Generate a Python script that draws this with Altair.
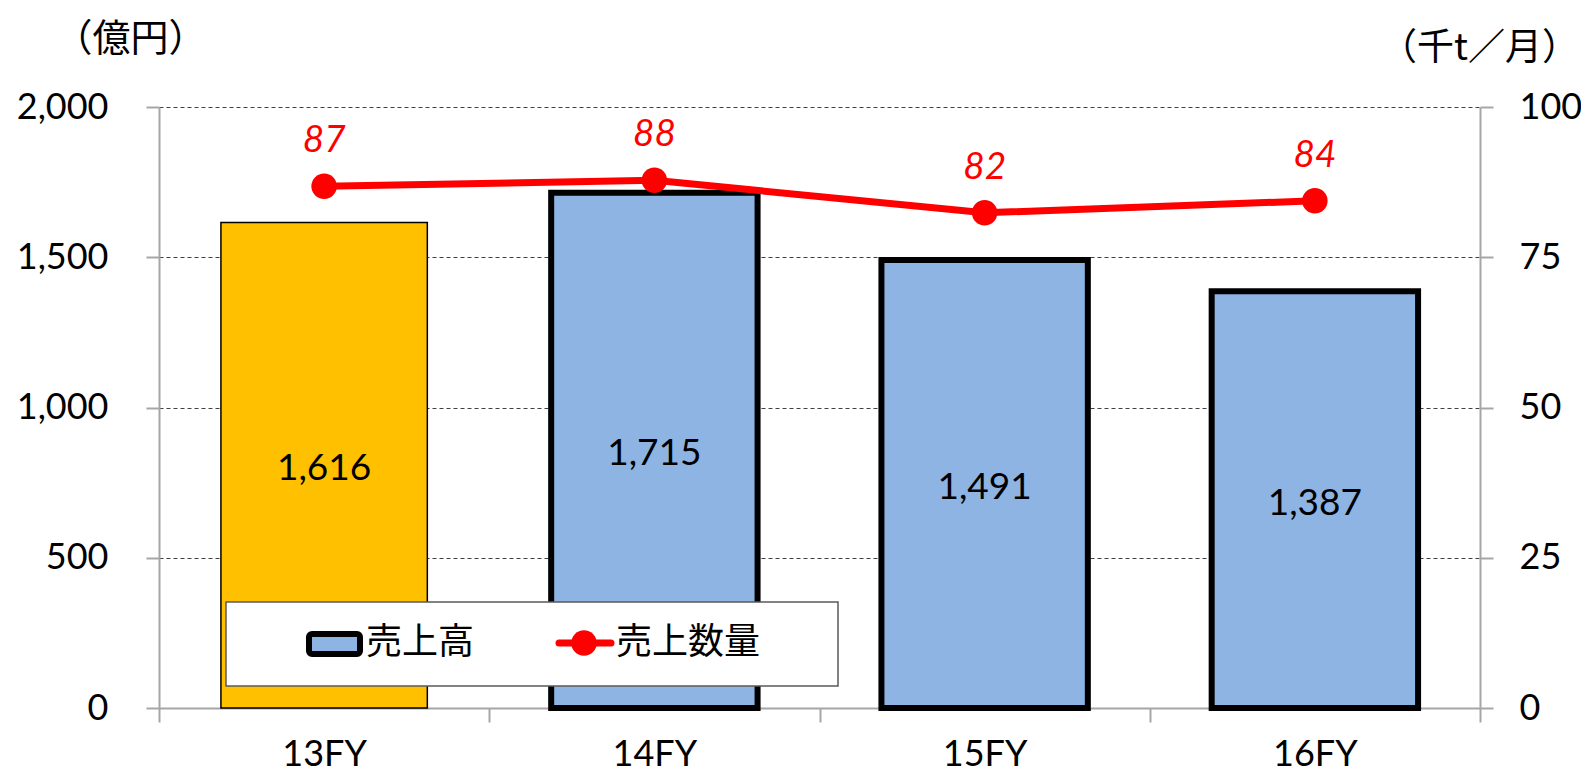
import altair as alt
import pandas as pd

# ---- data ----
categories = ["13FY", "14FY", "15FY", "16FY"]
sales = [1616, 1715, 1491, 1387]            # 売上高 (億円)
volumes = [86.8, 87.8, 82.4, 84.4]          # 売上数量 (千t/月)
volume_labels = ["87", "88", "82", "84"]
left_ticks = [0, 500, 1000, 1500, 2000]
right_ticks = [0, 25, 50, 75, 100]
legend_labels = ["売上高", "売上数量"]
left_title = "（億円）"
right_title = "（千t／月）"

df = pd.DataFrame({"cat": categories, "sales": sales, "vol": volumes, "vol_label": volume_labels})
legend_df = pd.DataFrame({"bar_label": [legend_labels[0]], "line_label": [legend_labels[1]]})

W, H = 1321, 601
NUM_FONT = "Lato"
JP_FONT = "Noto Sans CJK JP"
AXIS_GRAY = "#a6a6a6"
RED = "#FF0000"

x_enc = alt.X(
    "cat:N", sort=categories,
    scale=alt.Scale(paddingInner=0, paddingOuter=0),
    axis=alt.Axis(title=None, labelAngle=0, tickBand="extent", domainColor=AXIS_GRAY, domainWidth=2,
                  tickColor=AXIS_GRAY, tickWidth=2, tickSize=14, labelFont=NUM_FONT, labelFontSize=36,
                  labelColor="black", labelPadding=43, labelBaseline="alphabetic"),
)

left_scale = alt.Scale(domain=[0, 2000], nice=False, zero=True)
left_axis = alt.Axis(
    values=left_ticks, labelExpr="format(datum.value, ',')", grid=True, gridColor="#404040",
    gridDash=[4, 3], gridWidth=1,
    domainColor=AXIS_GRAY, domainWidth=2, tickColor=AXIS_GRAY, tickWidth=2, tickSize=13,
    labelFont=NUM_FONT, labelFontSize=36, labelColor="black", labelPadding=38,
    title=left_title, titleAngle=0, titleX=-29, titleY=-68, titleAlign="center", titleBaseline="middle",
    titleFont=JP_FONT, titleFontSize=38, titleFontWeight="normal", titleColor="black",
)

right_scale = alt.Scale(domain=[0, 100], nice=False, zero=True)
right_axis = alt.Axis(
    values=right_ticks, orient="right", grid=False,
    domainColor=AXIS_GRAY, domainWidth=2, tickColor=AXIS_GRAY, tickWidth=2, tickSize=13,
    labelFont=NUM_FONT, labelFontSize=36, labelColor="black", labelPadding=26,
    title=right_title, titleAngle=0, titleX=-1, titleY=-59, titleAlign="center", titleBaseline="middle",
    titleFont=JP_FONT, titleFontSize=37, titleFontWeight="normal", titleColor="black",
)

base = alt.Chart(df)

bars = base.mark_bar(stroke="black", width=alt.RelativeBandSize(0.625)).encode(
    x=x_enc,
    y=alt.Y("sales:Q", scale=left_scale, axis=left_axis),
    fill=alt.when(alt.datum.cat == "13FY").then(alt.value("#FFC000")).otherwise(alt.value("#8EB4E3")),
    strokeWidth=alt.when(alt.datum.cat == "13FY").then(alt.value(1.5)).otherwise(alt.value(6)),
)

bar_text = base.transform_calculate(mid="datum.sales / 2").mark_text(
    font=NUM_FONT, fontSize=37, color="black", baseline="middle", dy=4
).encode(
    x=x_enc,
    y=alt.Y("mid:Q", scale=left_scale, axis=left_axis),
    text=alt.Text("sales:Q", format=","),
)

leg = alt.Chart(legend_df)
legend_box = leg.mark_rect(fill="white", stroke="#595959", strokeWidth=1.5).encode(
    x=alt.value(67), x2=alt.value(679), y=alt.value(495), y2=alt.value(579))
legend_sym = leg.mark_rect(fill="#8EB4E3", stroke="black", strokeWidth=6, cornerRadius=3).encode(
    x=alt.value(150), x2=alt.value(201), y=alt.value(527), y2=alt.value(547))
legend_t1 = leg.mark_text(font=JP_FONT, fontSize=36, align="left", baseline="middle", color="black").encode(
    x=alt.value(207), y=alt.value(536), text="bar_label:N")
legend_rule = leg.mark_rule(color=RED, strokeWidth=7, strokeCap="round").encode(
    x=alt.value(400), x2=alt.value(452), y=alt.value(536))
legend_pt = leg.mark_circle(color=RED, size=650, opacity=1).encode(
    x=alt.value(425), y=alt.value(536))
legend_t2 = leg.mark_text(font=JP_FONT, fontSize=36, align="left", baseline="middle", color="black").encode(
    x=alt.value(457), y=alt.value(536), text="line_label:N")

left_group = alt.layer(bars, bar_text, legend_box, legend_sym, legend_t1, legend_rule, legend_pt, legend_t2)

line = base.mark_line(color=RED, strokeWidth=7).encode(
    x=x_enc, y=alt.Y("vol:Q", scale=right_scale, axis=right_axis))
points = base.mark_circle(color=RED, size=650, opacity=1).encode(
    x=x_enc, y=alt.Y("vol:Q", scale=right_scale, axis=right_axis))
line_text = base.mark_text(font=NUM_FONT, fontStyle="italic", fontSize=37, color=RED, dy=-45,
                           baseline="middle").encode(
    x=x_enc, y=alt.Y("vol:Q", scale=right_scale, axis=right_axis), text="vol_label:N")

right_group = alt.layer(line, points, line_text)

chart = alt.layer(left_group, right_group).resolve_scale(y="independent").properties(
    width=W, height=H,
    padding={"left": 151, "top": 99, "right": 101, "bottom": 64},
    autosize=alt.AutoSizeParams(type="none"),
    background="white",
).configure_view(stroke=None)

chart.save("out.html", embed_options={"renderer": "svg", "actions": False})
